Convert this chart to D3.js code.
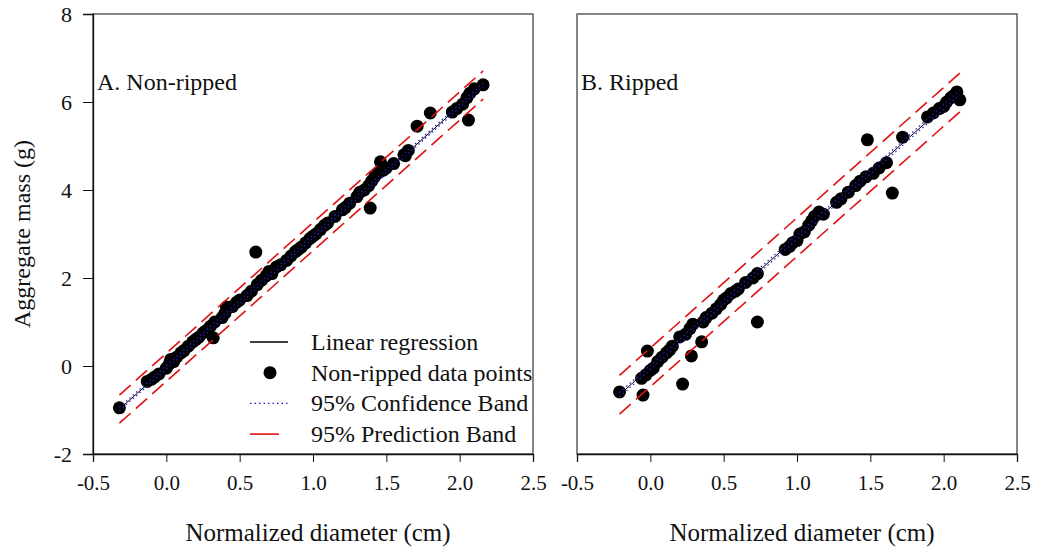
<!DOCTYPE html>
<html>
<head>
<meta charset="utf-8">
<script src="https://cdn.jsdelivr.net/npm/d3@7"></script>
<style>
  body { margin: 0; background: #fff; }
  svg text { font-family: "Liberation Serif", "Times New Roman", "DejaVu Serif", serif; fill: #111; }
</style>
</head>
<body>
<script>
// values
const xTicks = [-0.5, 0.0, 0.5, 1.0, 1.5, 2.0, 2.5];
const yTicks = [-2, 0, 2, 4, 6, 8];

const aX = [-0.32, -0.13, -0.10, -0.08, -0.05, 0.00, 0.02, 0.03, 0.05, 0.07, 0.10, 0.12, 0.15, 0.18, 0.20, 0.22, 0.25, 0.27, 0.32,
  0.30, 0.33, 0.38, 0.40, 0.41, 0.45, 0.48, 0.50, 0.55, 0.58, 0.61, 0.62, 0.65, 0.68, 0.70, 0.72, 0.75, 0.78, 0.82, 0.85,
  0.88, 0.90, 0.92, 0.95, 0.98, 1.00, 1.02, 1.05, 1.08, 1.10, 1.15, 1.20, 1.22, 1.25, 1.30, 1.32, 1.35, 1.39, 1.38, 1.40,
  1.42, 1.45, 1.46, 1.48, 1.50, 1.55, 1.62, 1.63, 1.65, 1.71, 1.80, 1.95, 1.98, 2.02, 2.06, 2.05, 2.07, 2.10, 2.16];
const aY = [-0.95, -0.35, -0.30, -0.25, -0.18, -0.05, 0.05, 0.15, 0.10, 0.20, 0.30, 0.35, 0.45, 0.55, 0.60, 0.65, 0.75, 0.80, 0.64,
  0.90, 1.00, 1.10, 1.20, 1.34, 1.35, 1.45, 1.50, 1.60, 1.70, 2.59, 1.85, 1.95, 2.05, 2.15, 2.10, 2.25, 2.30, 2.40, 2.50,
  2.60, 2.65, 2.70, 2.80, 2.90, 2.95, 3.00, 3.10, 3.20, 3.25, 3.40, 3.55, 3.60, 3.70, 3.85, 3.95, 4.00, 3.59, 4.10, 4.20,
  4.30, 4.40, 4.64, 4.45, 4.50, 4.60, 4.80, 4.78, 4.90, 5.45, 5.75, 5.77, 5.85, 5.95, 5.59, 6.10, 6.20, 6.30, 6.39];

const bX = [-0.21, -0.05, -0.02, -0.06, -0.03, 0.00, 0.02, 0.05, 0.08, 0.11, 0.13, 0.15, 0.22, 0.28, 0.20, 0.24, 0.27, 0.29,
  0.35, 0.36, 0.38, 0.42, 0.45, 0.48, 0.50, 0.52, 0.55, 0.58, 0.60, 0.65, 0.70, 0.73, 0.73, 0.92, 0.95, 0.97, 1.00, 1.02,
  1.05, 1.08, 1.10, 1.12, 1.15, 1.18, 1.27, 1.30, 1.35, 1.40, 1.43, 1.47, 1.48, 1.52, 1.56, 1.61, 1.65, 1.72, 1.89, 1.93,
  1.97, 2.00, 2.02, 2.05, 2.07, 2.09, 2.11];
const bY = [-0.59, -0.66, 0.34, -0.28, -0.20, -0.10, -0.05, 0.10, 0.20, 0.30, 0.36, 0.45, -0.41, 0.23, 0.66, 0.72, 0.85, 0.95,
  0.55, 1.00, 1.10, 1.20, 1.30, 1.40, 1.50, 1.55, 1.65, 1.70, 1.75, 1.90, 2.00, 2.10, 1.00, 2.65, 2.72, 2.80, 2.85, 3.00,
  3.05, 3.20, 3.30, 3.40, 3.50, 3.45, 3.72, 3.80, 3.95, 4.10, 4.20, 4.30, 5.14, 4.38, 4.50, 4.62, 3.93, 5.20, 5.66, 5.75,
  5.85, 5.90, 6.00, 6.10, 6.15, 6.23, 6.05];

// linear fits: [intercept, slope, xStart, xEnd, confidence half-width, prediction half-width]
const aFit = [-0.03, 2.97, -0.32, 2.16, 0.04, 0.32];
const bFit = [-0.03, 2.96, -0.21, 2.11, 0.05, 0.44];

const legendItems = ["Linear regression", "Non-ripped data points", "95% Confidence Band", "95% Prediction Band"];

const W = 1039, H = 552;
const serif = "'Liberation Serif', 'Times New Roman', serif";
const svg = d3.select("body").append("svg").attr("width", W).attr("height", H);

const y = d3.scaleLinear().domain([-2, 8]).range([454, 14]);
const fmtX = d => d3.format(".1f")(d).replace("\u2212", "-");

function panel(left, right, xs, ys, fit, label, showY) {
  const x = d3.scaleLinear().domain([-0.5, 2.5]).range([left, right]);
  const g = svg.append("g");

  // frame
  g.append("rect")
    .attr("x", left).attr("y", y(8))
    .attr("width", right - left).attr("height", y(-2) - y(8))
    .attr("fill", "none").attr("stroke", "#444").attr("stroke-width", 1.3);

  // x axis
  const xa = g.append("g").attr("transform", "translate(0," + y(-2) + ")")
    .call(d3.axisBottom(x).tickValues(xTicks).tickFormat(fmtX).tickSize(8).tickPadding(13));
  xa.select(".domain").attr("stroke", "#111").attr("stroke-width", 1.3);
  xa.selectAll(".tick line").attr("stroke", "#111");
  xa.selectAll("text").style("font-family", serif).style("font-size", "21px").attr("fill", "#111");

  if (showY) {
    const ya = g.append("g").attr("transform", "translate(" + left + ",0)")
      .call(d3.axisLeft(y).tickValues(yTicks).tickFormat(d => String(d)).tickSize(10).tickPadding(11));
    ya.select(".domain").attr("stroke", "#111").attr("stroke-width", 1.3);
    ya.selectAll(".tick line").attr("stroke", "#111");
    ya.selectAll("text").style("font-family", serif).style("font-size", "22px").attr("fill", "#111");
  }

  g.append("text")
    .attr("x", (left + right) / 2 + 5).attr("y", 541)
    .attr("text-anchor", "middle").style("font-size", "25px")
    .text("Normalized diameter (cm)");

  g.append("text")
    .attr("x", left + 4).attr("y", 90)
    .style("font-size", "24px")
    .text(label);

  const [b0, b1, x0, x1, ci, pi] = fit;
  const lineAt = off => [[x0, b0 + b1 * x0 + off], [x1, b0 + b1 * x1 + off]];
  const path = d3.line().x(d => x(d[0])).y(d => y(d[1]));

  // points
  g.append("g").selectAll("circle")
    .data(xs.map((v, i) => [v, ys[i]]))
    .join("circle")
    .attr("cx", d => x(d[0])).attr("cy", d => y(d[1]))
    .attr("r", 6.5).attr("fill", "#000");

  // prediction band
  [pi, -pi].forEach(o => {
    g.append("path").attr("d", path(lineAt(o)))
      .attr("fill", "none").attr("stroke", "#e01010").attr("stroke-width", 1.6)
      .attr("stroke-dasharray", "15,7");
  });
  // regression
  g.append("path").attr("d", path(lineAt(0)))
    .attr("fill", "none").attr("stroke", "#000").attr("stroke-width", 1);
  // confidence band
  [ci, -ci].forEach(o => {
    g.append("path").attr("d", path(lineAt(o)))
      .attr("fill", "none").attr("stroke", "#2020d0").attr("stroke-width", 1.2)
      .attr("stroke-dasharray", "1.5,3");
  });
}

panel(93, 533, aX, aY, aFit, "A. Non-ripped", true);
panel(577, 1017, bX, bY, bFit, "B. Ripped", false);

// y axis title
svg.append("text")
  .attr("transform", "translate(30,234) rotate(-90)")
  .attr("text-anchor", "middle").style("font-size", "24px")
  .text("Aggregate mass (g)");

// legend
const lg = svg.append("g");
legendItems.forEach((t, i) => {
  const ly = 342 + i * 30.7;
  if (i === 0) lg.append("line").attr("x1", 250).attr("x2", 288).attr("y1", ly).attr("y2", ly).attr("stroke", "#000").attr("stroke-width", 1.4);
  if (i === 1) lg.append("circle").attr("cx", 270).attr("cy", ly).attr("r", 6.5).attr("fill", "#000");
  if (i === 2) lg.append("line").attr("x1", 250).attr("x2", 288).attr("y1", ly).attr("y2", ly).attr("stroke", "#2020d0").attr("stroke-width", 1.3).attr("stroke-dasharray", "1.5,3");
  if (i === 3) lg.append("line").attr("x1", 250).attr("x2", 279).attr("y1", ly).attr("y2", ly).attr("stroke", "#e01010").attr("stroke-width", 1.6);
  lg.append("text").attr("x", 311).attr("y", ly + 8).style("font-size", "24px").text(t);
});
</script>
</body>
</html>
